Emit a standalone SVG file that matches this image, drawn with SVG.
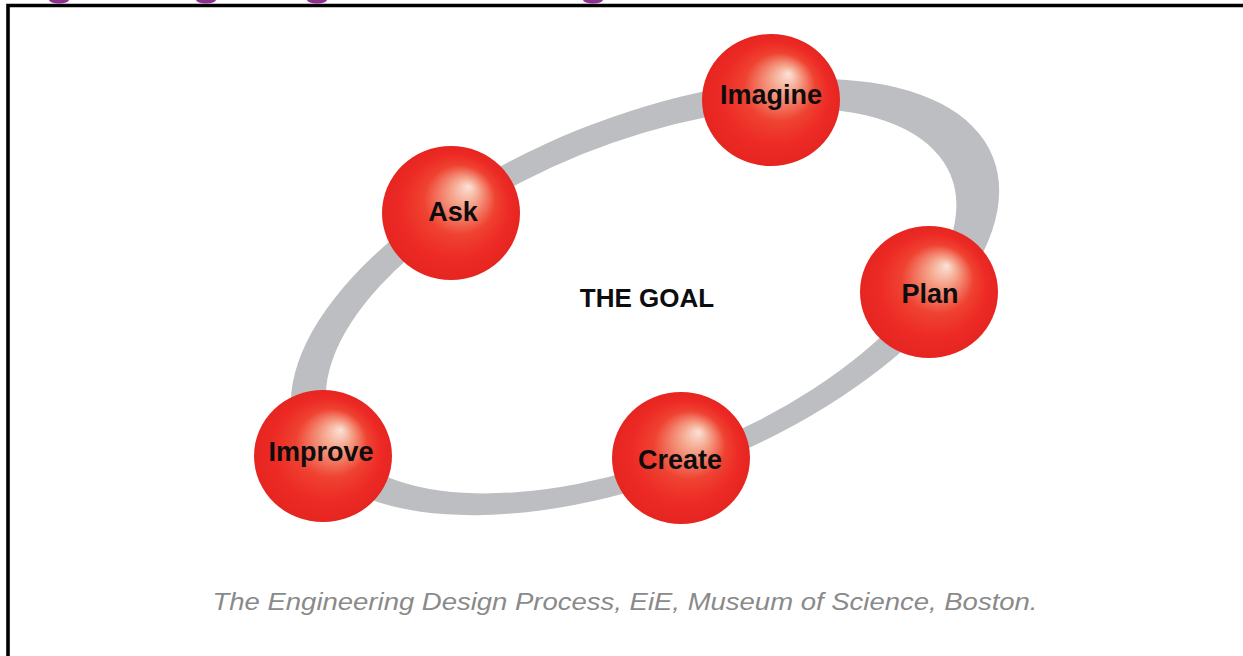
<svg xmlns="http://www.w3.org/2000/svg" width="1243" height="656" viewBox="0 0 1243 656">
  <defs>
    <radialGradient id="sphere" cx="0.5" cy="0.5" r="0.5" fx="0.63" fy="0.3">
      <stop offset="0" stop-color="#fbe2d8"/>
      <stop offset="0.2" stop-color="#f5a58c"/>
      <stop offset="0.52" stop-color="#ef4231"/>
      <stop offset="0.78" stop-color="#ed2a25"/>
      <stop offset="1" stop-color="#e62521"/>
    </radialGradient>
    <style>
      .ball { fill: url(#sphere); }
      .lbl { font-family: "Liberation Sans", Arial, sans-serif; font-weight: bold; font-size: 27px; fill: #0d0d0d; text-anchor: middle; }
      .goal { font-family: "Liberation Sans", Arial, sans-serif; font-weight: bold; font-size: 26px; fill: #0d0d0d; text-anchor: middle; }
      .cap { font-family: "Liberation Sans", Arial, sans-serif; font-style: italic; font-size: 24px; fill: #8a8a8a; text-anchor: middle; }
      .blob { fill: #8e2f91; }
    </style>
  </defs>
  <rect x="0" y="0" width="1243" height="656" fill="#ffffff"/>

  <g id="top-cutoff">
    <ellipse class="blob" cx="59" cy="0" rx="10" ry="3.5"/>
    <ellipse class="blob" cx="206" cy="0" rx="10" ry="3.5"/>
    <ellipse class="blob" cx="317" cy="0" rx="10" ry="3.5"/>
    <ellipse class="blob" cx="593" cy="0" rx="10" ry="3.5"/>
  </g>

  <path id="frame" d="M8,656 V5.5 H1243" fill="none" stroke="#000" stroke-width="3.6"/>

  <g id="connectors">
    <path fill="#bdbec1" fill-rule="evenodd" d="M270,297 a375,180 0 1,0 750,0 a375,180 0 1,0 -750,0 Z M306,299 a334,158 0 1,0 668,0 a334,158 0 1,0 -668,0 Z" transform="rotate(-22 645 297)"/>
  </g>

  <g id="goal">
    <text class="goal" x="647" y="307">THE GOAL</text>
  </g>

  <g id="node-ask">
    <ellipse class="ball" cx="451" cy="213" rx="69" ry="67"/>
    <text class="lbl" x="453" y="221">Ask</text>
  </g>
  <g id="node-imagine">
    <ellipse class="ball" cx="771" cy="100" rx="69" ry="66"/>
    <text class="lbl" x="771" y="104">Imagine</text>
  </g>
  <g id="node-plan">
    <ellipse class="ball" cx="929" cy="292" rx="69" ry="66"/>
    <text class="lbl" x="930" y="303">Plan</text>
  </g>
  <g id="node-create">
    <ellipse class="ball" cx="681" cy="458" rx="69" ry="66"/>
    <text class="lbl" x="680" y="469">Create</text>
  </g>
  <g id="node-improve">
    <ellipse class="ball" cx="323" cy="456" rx="69" ry="66"/>
    <text class="lbl" x="321" y="461">Improve</text>
  </g>

  <g id="caption">
    <text class="cap" x="625" y="610" textLength="825" lengthAdjust="spacingAndGlyphs">The Engineering Design Process, EiE, Museum of Science, Boston.</text>
  </g>
</svg>
